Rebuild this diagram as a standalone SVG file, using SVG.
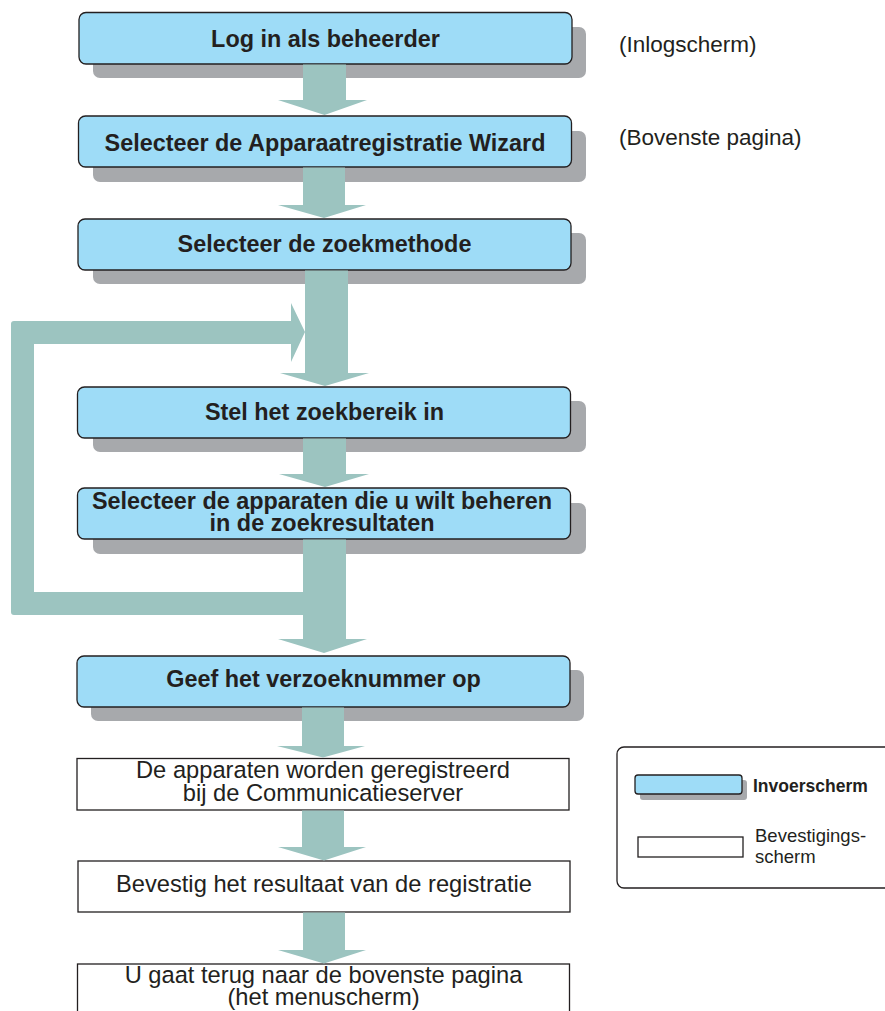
<svg xmlns="http://www.w3.org/2000/svg" width="885" height="1011" viewBox="0 0 885 1011">
<style>
.shadow{fill:#a7a9ac}
.inp{fill:#9edcf7;stroke:#231f20;stroke-width:1.3}
.conf{fill:#ffffff;stroke:#231f20;stroke-width:1.3}
.arr{fill:#9cc4c0}
.tb{font-family:"Liberation Sans",Arial,sans-serif;font-weight:bold;font-size:23.4px;fill:#231f20;text-anchor:middle}
.tr{font-family:"Liberation Sans",Arial,sans-serif;font-size:23.7px;fill:#231f20;text-anchor:middle}
.side{font-family:"Liberation Sans",Arial,sans-serif;font-size:22.5px;fill:#231f20}
.lg{font-family:"Liberation Sans",Arial,sans-serif;font-size:18.5px;fill:#231f20}
.lgb{font-family:"Liberation Sans",Arial,sans-serif;font-size:17.5px;font-weight:bold;fill:#231f20}
</style>
<rect width="885" height="1011" fill="#ffffff"/>
<g id="n1">
<rect class="shadow" x="93" y="27" width="493" height="51" rx="7"/>
<rect class="inp" x="79" y="12.5" width="493" height="51.5" rx="7"/>
<text class="tb" x="325.5" y="47">Log in als beheerder</text>
</g>
<g id="n2">
<rect class="shadow" x="93" y="131" width="493" height="51" rx="7"/>
<rect class="inp" x="78.5" y="116" width="493" height="51" rx="7"/>
<text class="tb" x="325" y="151">Selecteer de Apparaatregistratie Wizard</text>
</g>
<g id="n3">
<rect class="shadow" x="93" y="233" width="493" height="51" rx="7"/>
<rect class="inp" x="78" y="219" width="493" height="51" rx="7"/>
<text class="tb" x="324.5" y="252">Selecteer de zoekmethode</text>
</g>
<g id="n4">
<rect class="shadow" x="93" y="401" width="493" height="51" rx="7"/>
<rect class="inp" x="77.5" y="387" width="493" height="51" rx="7"/>
<text class="tb" x="324.5" y="420">Stel het zoekbereik in</text>
</g>
<g id="n5">
<rect class="shadow" x="93" y="503" width="493" height="51" rx="7"/>
<rect class="inp" x="77.5" y="488" width="493" height="51" rx="7"/>
<text class="tb" x="322" y="509">Selecteer de apparaten die u wilt beheren</text>
<text class="tb" x="322" y="531">in de zoekresultaten</text>
</g>
<g id="n6">
<rect class="shadow" x="91" y="670" width="493" height="51" rx="7"/>
<rect class="inp" x="77" y="656" width="493" height="51" rx="7"/>
<text class="tb" x="323.5" y="687">Geef het verzoeknummer op</text>
</g>
<g id="n7">
<rect class="conf" x="77" y="758.5" width="492" height="51.5"/>
<text class="tr" x="323" y="778">De apparaten worden geregistreerd</text>
<text class="tr" x="323" y="801">bij de Communicatieserver</text>
</g>
<g id="n8">
<rect class="conf" x="78" y="861" width="492" height="51"/>
<text class="tr" x="324" y="892">Bevestig het resultaat van de registratie</text>
</g>
<g id="n9">
<rect class="conf" x="77.5" y="964" width="492" height="60"/>
<text class="tr" x="323.5" y="983">U gaat terug naar de bovenste pagina</text>
<text class="tr" x="323.5" y="1005">(het menuscherm)</text>
</g>
<g id="side-labels">
<text class="side" x="619" y="52">(Inlogscherm)</text>
<text class="side" x="619" y="145">(Bovenste pagina)</text>
</g>
<g id="legend">
<rect x="617" y="747" width="285" height="141" rx="7" fill="#ffffff" stroke="#231f20" stroke-width="1.3"/>
<rect class="shadow" x="640" y="780" width="107" height="20" rx="3"/>
<rect class="inp" x="635" y="775" width="107" height="19" rx="3"/>
<text class="lgb" x="753" y="792">Invoerscherm</text>
<rect class="conf" x="638" y="837" width="105" height="20"/>
<text class="lg" x="755" y="842">Bevestigings-</text>
<text class="lg" x="755" y="863">scherm</text>
</g>
<g id="connectors">
<path class="arr" d="M303,64.5 H346 V100 H367 L324.5,115 L278,100 H303 Z"/>
<path class="arr" d="M303,167.5 H345 V205 H366 L324,218 L278,205 H303 Z"/>
<path class="arr" d="M305,270.5 H348 V373 H369 L325,386 L280,373 H305 Z"/>
<path class="arr" d="M303,438.5 H346 V474 H369 L325,487 L279,474 H303 Z"/>
<path class="arr" d="M303,539.5 H346 V639 H367 L324,653 L278,639 H303 Z"/>
<path class="arr" d="M302,707.5 H344 V746 H365 L323,757.5 L277,746 H302 Z"/>
<path class="arr" d="M302,810.5 H344 V847 H366 L324,860.5 L278,847 H302 Z"/>
<path class="arr" d="M303,912.5 H345 V950 H366 L324,963.5 L278,950 H303 Z"/>
<path class="arr" d="M14,321 H291 V303 L305,332 L291,362 V344 H34 V592 H304 V615 H14 Q11,615 11,612 V324 Q11,321 14,321 Z"/>
</g>
</svg>
